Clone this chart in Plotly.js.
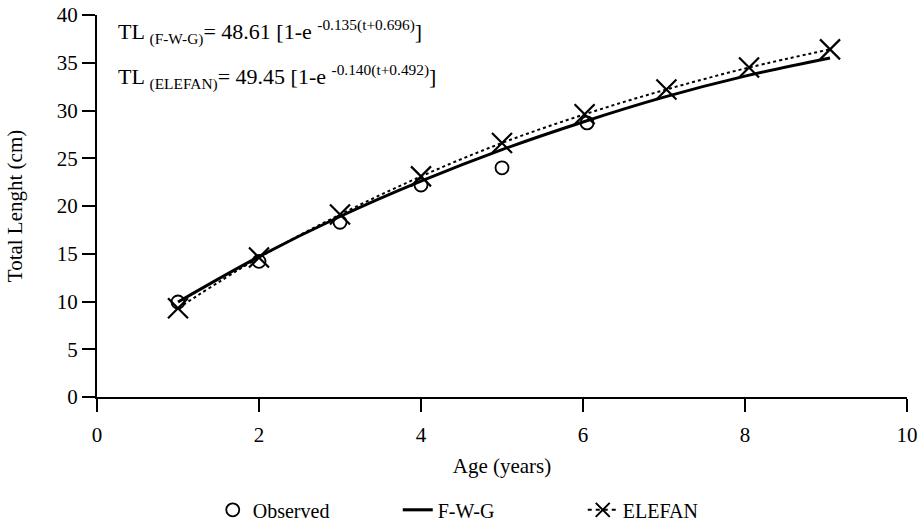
<!DOCTYPE html>
<html>
<head>
<meta charset="utf-8">
<script src="https://cdn.plot.ly/plotly-3.0.1.min.js"></script>
<style>html,body{margin:0;padding:0;background:#fff;}#chart{width:919px;height:524px;}</style>
</head>
<body>
<div id="chart"></div>
<script>
// Observed mean lengths
const obsAge = [1, 2, 3, 4, 5, 6.05];
const obsLen = [9.95, 14.2, 18.3, 22.2, 24.0, 28.7];
// F-W-G curve
const fwgAge = [1, 2, 3, 4, 5, 6, 7, 8, 9.05];
const fwgLen = [9.95, 14.7, 18.9, 22.6, 25.9, 28.8, 31.4, 33.6, 35.5];
// ELEFAN estimates
const eleAge = [1, 2, 3, 4, 5, 6.02, 7.03, 8.05, 9.05];
const eleLen = [9.3, 14.6, 19.1, 23.1, 26.6, 29.6, 32.2, 34.5, 36.4];

const serif = "Liberation Serif, Times New Roman, serif";

const traces = [
  {x: obsAge, y: obsLen, mode: 'markers', name: 'Observed', showlegend: true,
   marker: {symbol: 'circle-open', size: 13, color: '#000', line: {width: 1.8, color: '#000'}}},
  {x: fwgAge, y: fwgLen, mode: 'lines', name: 'F-W-G',
   line: {color: '#000', width: 3, shape: 'spline'}},
  {x: eleAge, y: eleLen, mode: 'lines+markers', name: 'ELEFAN', showlegend: false,
   line: {color: '#000', width: 2, dash: 'dot', shape: 'spline'},
   marker: {symbol: 'x-thin-open', size: 20, color: '#000', line: {width: 2.2, color: '#000'}}},
  {x: [null], y: [null], mode: 'lines+markers', name: 'ELEFAN',
   line: {color: '#000', width: 2, dash: '4px,4px'},
   marker: {symbol: 'x-thin-open', size: 14, color: '#000', line: {width: 2, color: '#000'}}}
];

const layout = {
  width: 919, height: 524,
  margin: {l: 97, r: 12, t: 15, b: 127, autoexpand: false},
  paper_bgcolor: '#fff', plot_bgcolor: '#fff',
  font: {family: serif, color: '#000', size: 20},
  showlegend: true,
  legend: {orientation: 'h', x: 0.2315, xanchor: 'left', xref: 'container',
           y: 0.027, yanchor: 'middle', yref: 'container',
           entrywidth: 140, entrywidthmode: 'pixels',
           font: {family: serif, size: 20, color: '#000'}},
  xaxis: {range: [0, 10], dtick: 2, tick0: 0, showline: true, linecolor: '#000', linewidth: 2,
          ticks: 'outside', ticklen: 13, tickwidth: 2, tickcolor: '#000', showgrid: false, zeroline: false,
          tickfont: {family: serif, size: 21}, fixedrange: true, automargin: false, ticklabelstandoff: 5,
          title: {text: 'Age (years)', font: {family: serif, size: 21}, standoff: 12}},
  yaxis: {range: [0, 40], dtick: 5, tick0: 0, showline: true, linecolor: '#000', linewidth: 2,
          ticks: 'outside', ticklen: 13, tickwidth: 2, tickcolor: '#000', showgrid: false, zeroline: false,
          tickfont: {family: serif, size: 21}, fixedrange: true, automargin: false,
          title: {text: 'Total Lenght (cm)', font: {family: serif, size: 21}, standoff: 28}},
  annotations: [
    {xref: 'paper', yref: 'paper', x: 0.024, y: 0.955, xanchor: 'left', yanchor: 'middle', showarrow: false,
     font: {family: serif, size: 22},
     text: 'TL <sub>(F-W-G)</sub>= 48.61 [1-e <sup>-0.135(t+0.696)</sup>]'},
    {xref: 'paper', yref: 'paper', x: 0.024, y: 0.838, xanchor: 'left', yanchor: 'middle', showarrow: false,
     font: {family: serif, size: 22},
     text: 'TL <sub>(ELEFAN)</sub>= 49.45 [1-e <sup>-0.140(t+0.492)</sup>]'}
  ]
};

Plotly.newPlot('chart', traces, layout, {displayModeBar: false, staticPlot: true});
</script>
</body>
</html>
